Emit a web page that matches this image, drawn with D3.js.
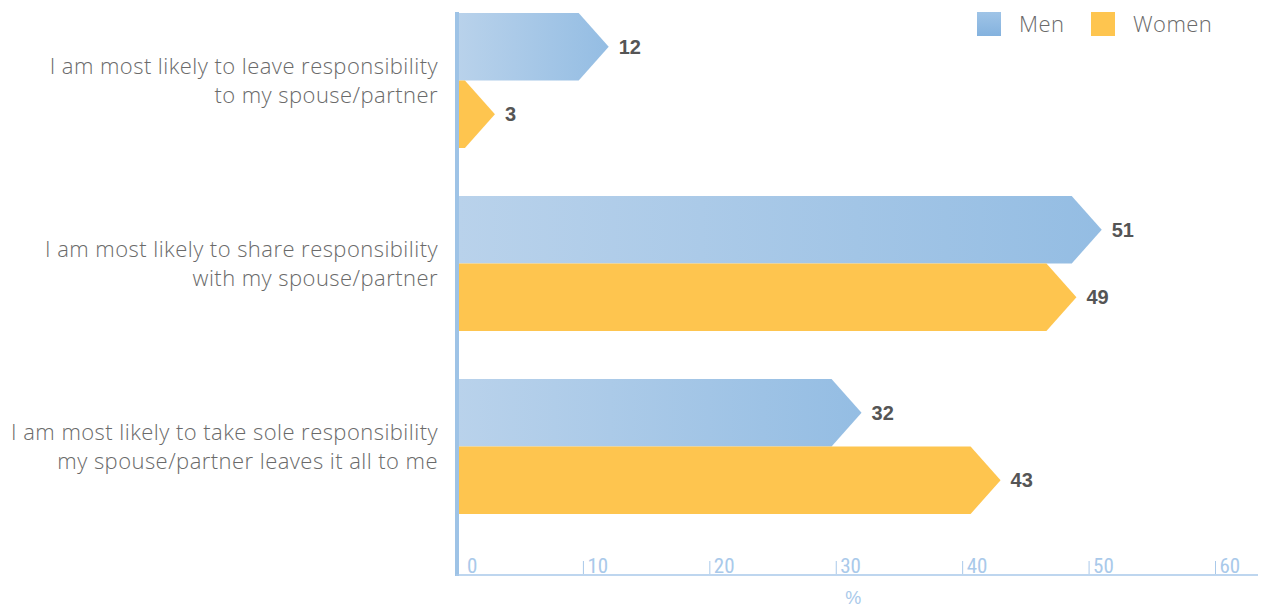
<!DOCTYPE html>
<html>
<head>
<meta charset="utf-8">
<script src="https://cdn.jsdelivr.net/npm/d3@7"></script>
<style>
  html, body { margin: 0; padding: 0; background: #fff; }
  svg { display: block; }
</style>
</head>
<body>
<svg id="chart" width="1264" height="607"></svg>
<script>
// Survey answers, one group per statement
const categories = [
  ["I am most likely to leave responsibility", "to my spouse/partner"],
  ["I am most likely to share responsibility", "with my spouse/partner"],
  ["I am most likely to take sole responsibility", "my spouse/partner leaves it all to me"]
];
const seriesNames = ["Men", "Women"];
const menValues = [12, 51, 32];
const womenValues = [3, 49, 43];
const tickValues = [0, 10, 20, 30, 40, 50, 60];
const axisTitle = "%";

const svg = d3.select("#chart");
const x0 = 457, x1 = 1215.5;
const x = d3.scaleLinear().domain([0, 60]).range([x0, x1]);

const y = d3.scaleBand().domain(d3.range(categories.length))
  .range([13, 514]).paddingInner(0.263).paddingOuter(0);
const ySub = d3.scaleBand().domain(seriesNames).range([0, y.bandwidth()]);

const axisColor = "#a9c9ea";
const womenColor = "#fec54f";
const textGrey = "#6a6a6a";
const sans = "'Liberation Sans', Arial, sans-serif";
const light = "'Open Sans', 'Liberation Sans', sans-serif";

const defs = svg.append("defs");
const grad = defs.append("linearGradient").attr("id", "menGrad")
  .attr("x1", "0%").attr("x2", "100%").attr("y1", "0").attr("y2", "0");
grad.append("stop").attr("offset", "0%").attr("stop-color", "#b9d2eb");
grad.append("stop").attr("offset", "100%").attr("stop-color", "#94bde3");
const lgGrad = defs.append("linearGradient").attr("id", "menLegend")
  .attr("x1", "0").attr("x2", "0").attr("y1", "0%").attr("y2", "100%");
lgGrad.append("stop").attr("offset", "0%").attr("stop-color", "#9fc4e7");
lgGrad.append("stop").attr("offset", "100%").attr("stop-color", "#84b2de");

// Arrow-shaped bars: body plus pointed tip ending at the value
const tipLen = 30;
function arrowPath(v, top, h) {
  const tip = x(v);
  const bodyEnd = Math.max(x(0), tip - tipLen);
  const start = x(0);
  return `M${start},${top} L${bodyEnd},${top} L${tip},${top + h / 2} L${bodyEnd},${top + h} L${start},${top + h} Z`;
}

const rows = [];
categories.forEach((c, i) => {
  rows.push({ i, s: "Men", v: menValues[i] });
  rows.push({ i, s: "Women", v: womenValues[i] });
});

const bars = svg.append("g");
bars.selectAll("path").data(rows).join("path")
  .attr("d", d => arrowPath(d.v, y(d.i) + ySub(d.s), ySub.bandwidth()))
  .attr("fill", d => d.s === "Men" ? "url(#menGrad)" : womenColor);

// Value labels next to each tip
svg.append("g").selectAll("text").data(rows).join("text")
  .attr("x", d => x(d.v) + 10)
  .attr("y", d => y(d.i) + ySub(d.s) + ySub.bandwidth() / 2)
  .attr("dy", "0.36em")
  .attr("font-family", sans)
  .attr("font-weight", 700)
  .attr("font-size", 20)
  .attr("fill", "#555555")
  .text(d => d.v);

// Category labels, right aligned against the axis
const catG = svg.append("g");
categories.forEach((lines, i) => {
  const cy = y(i) + y.bandwidth() / 2;
  const t = catG.append("text")
    .attr("text-anchor", "end")
    .attr("font-family", light)
    .attr("font-weight", 300)
    .attr("font-size", 22)
    .attr("letter-spacing", 0.45)
    .attr("fill", textGrey);
  lines.forEach((ln, k) => {
    t.append("tspan").attr("x", 438)
      .attr("y", cy + (k - (lines.length - 1) / 2) * 29)
      .attr("dy", "0.35em")
      .text(ln);
  });
});

// Vertical axis line
svg.append("rect").attr("x", 455).attr("y", 12).attr("width", 4).attr("height", 564)
  .attr("fill", "#9ec3e6");

// Bottom axis with ticks and labels set right of each tick
const xAxis = svg.append("g");
xAxis.append("line").attr("x1", 456).attr("x2", 1258).attr("y1", 575).attr("y2", 575)
  .attr("stroke", axisColor).attr("stroke-width", 1.5);
const tk = xAxis.selectAll("g.tk").data(tickValues).join("g").attr("class", "tk")
  .attr("transform", d => `translate(${x(d)},0)`);
tk.filter(d => d !== 0).append("line")
  .attr("y1", 561).attr("y2", 574).attr("stroke", axisColor).attr("stroke-width", 1);
tk.append("text")
  .attr("x", d => d === 0 ? 10 : 4)
  .attr("y", 573)
  .attr("font-family", "'Liberation Sans Narrow', 'Roboto Condensed', sans-serif")
  .attr("font-size", 21)
  .attr("fill", axisColor)
  .text(d => d);
svg.append("text").attr("x", x(30) + 17).attr("y", 604)
  .attr("text-anchor", "middle")
  .attr("font-family", "'Liberation Sans Narrow', sans-serif")
  .attr("font-size", 18).attr("fill", axisColor).text(axisTitle);

// Legend
const legend = svg.append("g");
const legendX = [977, 1091];
seriesNames.forEach((s, k) => {
  legend.append("rect").attr("x", legendX[k]).attr("y", 12).attr("width", 24).attr("height", 24)
    .attr("fill", s === "Men" ? "url(#menLegend)" : womenColor);
  legend.append("text").attr("x", legendX[k] + 42).attr("y", 24).attr("dy", "0.35em")
    .attr("font-family", light).attr("font-weight", 300)
    .attr("font-size", 22).attr("letter-spacing", 0.45)
    .attr("fill", textGrey).text(s);
});
</script>
</body>
</html>
